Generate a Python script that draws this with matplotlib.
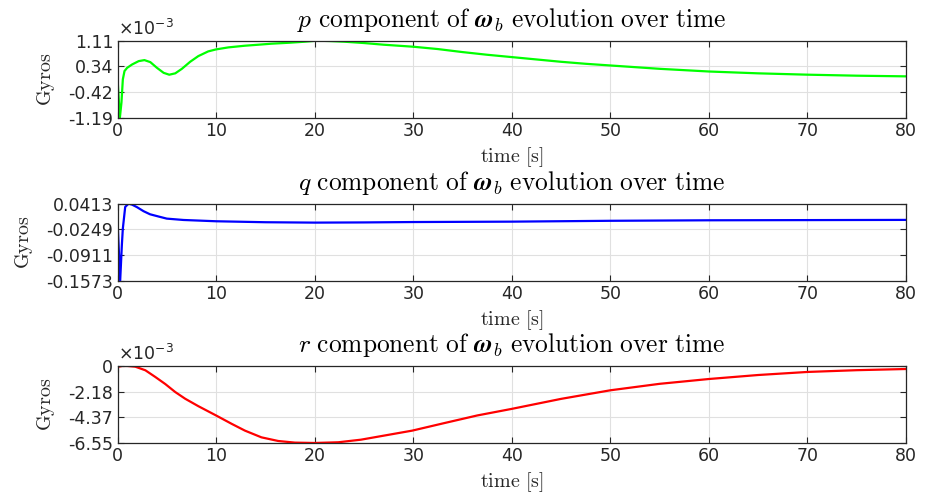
import matplotlib
matplotlib.use("Agg")
import matplotlib.pyplot as plt

# Body angular rate components (gyro readings)
t_p = [0, 0.24, 0.4, 0.54, 0.71, 0.98, 1.48, 2.15, 2.73, 3.33, 4.0, 4.68, 5.25, 5.86,
       6.53, 7.37, 8.2, 9.2, 10, 11.25, 12.93, 14.3, 15.6, 17.5, 19, 20.2, 21.5, 23, 25,
       27, 30, 32.5, 35, 37.5, 40, 42.5, 45, 47.5, 50, 55, 60, 65, 70, 75, 80]
p_e3 = [0.0, -1.19, -0.74, -0.045, 0.204, 0.30, 0.40, 0.50, 0.53, 0.47, 0.30, 0.15,
        0.094, 0.135, 0.27, 0.48, 0.65, 0.79, 0.85, 0.91, 0.96, 0.99, 1.02, 1.05, 1.08,
        1.11, 1.10, 1.08, 1.04, 0.99, 0.93, 0.86, 0.77, 0.69, 0.62, 0.55, 0.48, 0.42,
        0.37, 0.27, 0.19, 0.135, 0.095, 0.065, 0.045]

t_q = [0, 0.27, 0.44, 0.54, 0.78, 1.12, 1.46, 1.96, 2.64, 3.3, 4.2, 5.0, 6.7, 10, 15,
       20, 25, 30, 40, 50, 60, 70, 80]
q = [0.0, -0.1573, -0.066, -0.023, 0.033, 0.0413, 0.039, 0.0326, 0.022, 0.014, 0.008,
     0.0028, -0.0007, -0.004, -0.0065, -0.0075, -0.007, -0.006, -0.005, -0.0028, -0.0015,
     -0.001, -0.0005]

t_r = [0, 0.47, 1.0, 1.8, 2.83, 3.84, 4.85, 5.86, 6.87, 8.2, 10, 11.6, 12.93, 14.6, 16.3,
       18, 20, 22.4, 24.7, 27.4, 29.9, 33.1, 36.5, 40, 45, 50, 55, 60, 65, 70, 75, 80]
r_e3 = [-0.085, 0.0, 0.0, -0.06, -0.37, -0.94, -1.54, -2.22, -2.79, -3.42, -4.21, -4.93,
        -5.50, -6.07, -6.38, -6.52, -6.55, -6.49, -6.27, -5.87, -5.50, -4.87, -4.21, -3.65,
        -2.8, -2.07, -1.52, -1.11, -0.77, -0.51, -0.36, -0.26]

p_ticks = [-1.19, -0.42, 0.34, 1.11]
q_ticks = [-0.1573, -0.0911, -0.0249, 0.0413]
r_ticks = [-6.55, -4.37, -2.18, 0]
x_ticks = [0, 10, 20, 30, 40, 50, 60, 70, 80]

panels = [
    (t_p, p_e3, p_ticks, ["-1.19", "-0.42", "0.34", "1.11"], "#00ff00", "p", True),
    (t_q, q, q_ticks, ["-0.1573", "-0.0911", "-0.0249", "0.0413"], "#0000ff", "q", False),
    (t_r, r_e3, r_ticks, ["-6.55", "-4.37", "-2.18", "0"], "#ff0000", "r", True),
]

plt.rcParams["font.family"] = "DejaVu Sans"
fig = plt.figure(figsize=(9.26, 4.95), dpi=100)
ax_left, ax_w, ax_h = 0.1269, 0.8515, 0.1556
bottoms = [0.7622, 0.4329, 0.1051]
edge = "#262626"

for (tt, vals, ticks, tlabels, col, comp, sci), b in zip(panels, bottoms):
    ax = fig.add_axes([ax_left, b, ax_w, ax_h])
    ax.plot(tt, vals, color=col, lw=1.6, solid_joinstyle="round")
    ax.set_xlim(0, 80)
    ax.set_ylim(ticks[0], ticks[-1])
    ax.set_xticks(x_ticks)
    ax.set_yticks(ticks)
    ax.set_yticklabels(tlabels)
    ax.grid(True, color="#e0e0e0", lw=0.8)
    ax.tick_params(direction="in", length=4, width=0.8, colors=edge,
                   labelsize=12.5, top=True, right=True, pad=3)
    for s in ax.spines.values():
        s.set_color(edge)
        s.set_linewidth(0.9)
    ax.set_title(r"$%s\ \mathrm{component\ of}\ \mathbfit{\omega}_b\ "
                 r"\mathrm{evolution\ over\ time}$" % comp,
                 fontsize=18.3, math_fontfamily="cm", pad=10, color="black")
    ax.set_xlabel(r"$\mathrm{time\ [s]}$", fontsize=14.5, math_fontfamily="cm",
                  labelpad=4, color=edge)
    ax.set_ylabel(r"$\mathrm{Gyros}$", fontsize=14.5, math_fontfamily="cm",
                  labelpad=8, color=edge)
    if sci:
        ax.text(0.0, 1.02, r"$\times10^{-3}$", transform=ax.transAxes, fontsize=12.5,
                math_fontfamily="dejavusans", color=edge, ha="left", va="bottom")

fig.savefig("out.png", dpi=100)
